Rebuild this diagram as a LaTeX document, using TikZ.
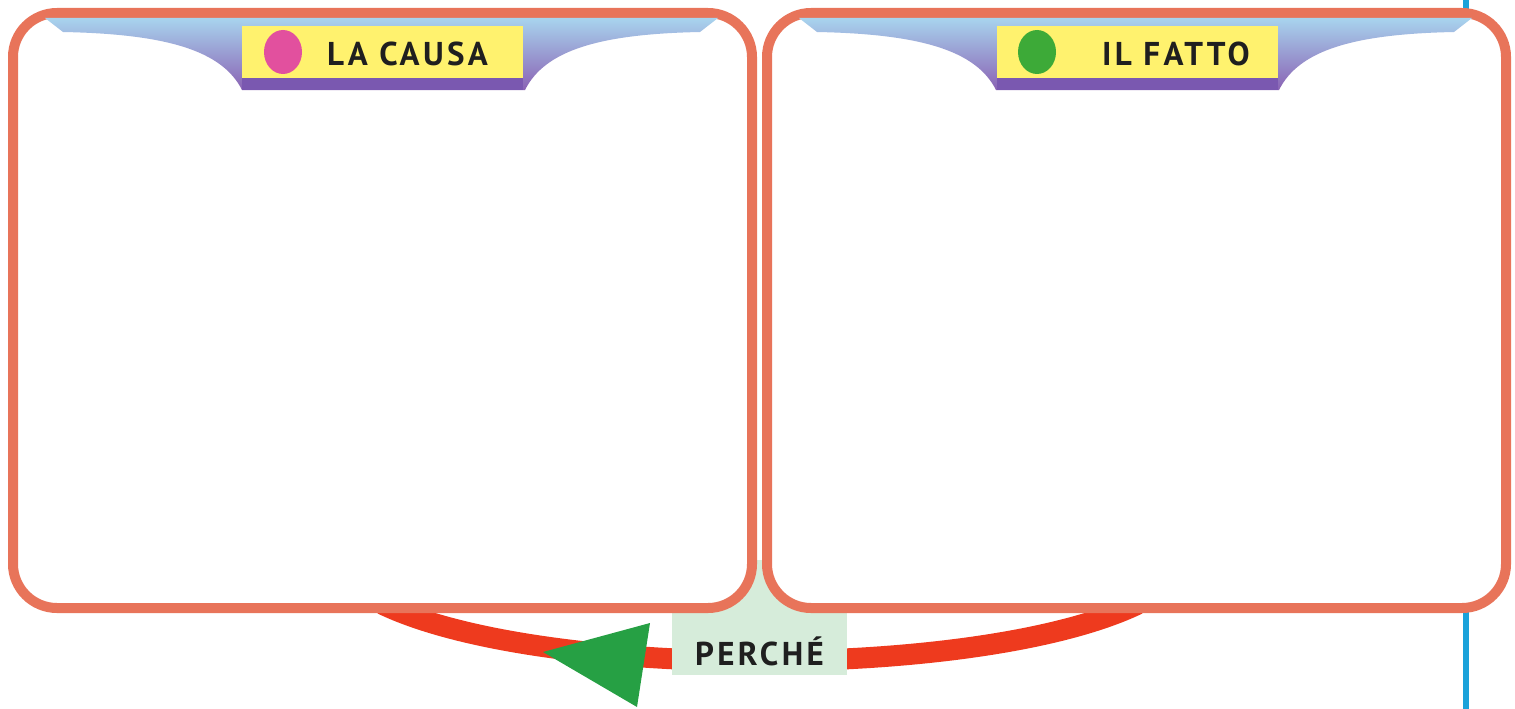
\documentclass[tikz,border=0pt]{standalone}
\usepackage{fontspec}
\setmainfont{PT Sans}
\newfontfamily\titlefont[LetterSpace=10]{PT Sans}
\usetikzlibrary{shapes.geometric}
\definecolor{frame}{HTML}{E8745A}
\definecolor{bandtop}{HTML}{A8D4EE}
\definecolor{bandbot}{HTML}{8A62B4}
\definecolor{labyel}{HTML}{FFF26E}
\definecolor{strip}{HTML}{7A58B0}
\definecolor{arcred}{HTML}{EE3A1E}
\definecolor{arrgreen}{HTML}{26A044}
\definecolor{perchebg}{HTML}{D6ECDA}
\definecolor{bluel}{HTML}{1AA2DA}
\definecolor{pinkdot}{HTML}{E2509E}
\definecolor{greendot}{HTML}{3DAA38}
\tikzset{
  panel/.style={draw=frame, line width=10pt, fill=white, rounded corners=44pt,
    minimum width=739pt, minimum height=595pt, inner sep=0pt},
  band/.style={top color=bandtop, bottom color=bandbot, draw=none},
  labelbox/.style={fill=labyel, draw=none, minimum width=281pt, minimum height=52pt, inner sep=0pt},
  stripbox/.style={fill=strip, draw=none, minimum width=281pt, minimum height=12pt, inner sep=0pt},
  dot/.style={ellipse, minimum width=38pt, minimum height=44pt, inner sep=0pt, draw=none},
  title/.style={font=\titlefont\bfseries\fontsize{33}{35}\selectfont, text=black!88, inner sep=0pt},
  relarc/.style={draw=arcred, line width=21pt},
}
\begin{document}
\begin{tikzpicture}[x=1pt,y=-1pt]
\useasboundingbox (0,0) rectangle (1515,709);
% blue rule at the right
\coordinate (bt) at (1466,0);
\coordinate (bb) at (1466,709);
\draw[bluel, line width=6pt] (bt) -- (bb);
% relation arc
\coordinate (arcR) at (1138,604);
\coordinate (arcL) at (382,604);
\draw[relarc] (arcR) .. controls (980,680) and (540,680) .. (arcL);
% arrow head
\coordinate (tipA) at (543,652);
\coordinate (tipB) at (650,623);
\coordinate (tipC) at (637,707);
\fill[arrgreen] (tipA) -- (tipB) -- (tipC) -- cycle;
% PERCHE background
\fill[perchebg] (672,560) rectangle (847,675);
% panels
\node[panel] (causa) at (382.5,310.5) {};
\node[panel] (fatto) at (1136.5,310.5) {};
% header bands
\path[band] (45,18) -- (718,18) -- (700,32) .. controls (600,34) and (545,50) .. (525,90)
  -- (242,90) .. controls (222,50) and (165,34) .. (63,32) -- cycle;
\path[band] (799,18) -- (1472,18) -- (1454,32) .. controls (1354,34) and (1299,50) .. (1279,90)
  -- (996,90) .. controls (976,50) and (919,34) .. (817,32) -- cycle;
\node[stripbox] (s1) at (382.5,84) {};
\node[stripbox] (s2) at (1137.5,84) {};
\node[labelbox] (l1) at (382.5,52) {};
\node[labelbox] (l2) at (1137.5,52) {};
\node[dot, fill=pinkdot] (d1) at (283,52) {};
\node[dot, fill=greendot] (d2) at (1037,52) {};
\node[title, anchor=west] (t1) at (327,54) {LA CAUSA};
\node[title, anchor=west] (t2) at (1102,54) {IL FATTO};
% PERCHE label
\node[title, anchor=center] (perche) at (759.5,651) {PERCHÉ};
\end{tikzpicture}
\end{document}
